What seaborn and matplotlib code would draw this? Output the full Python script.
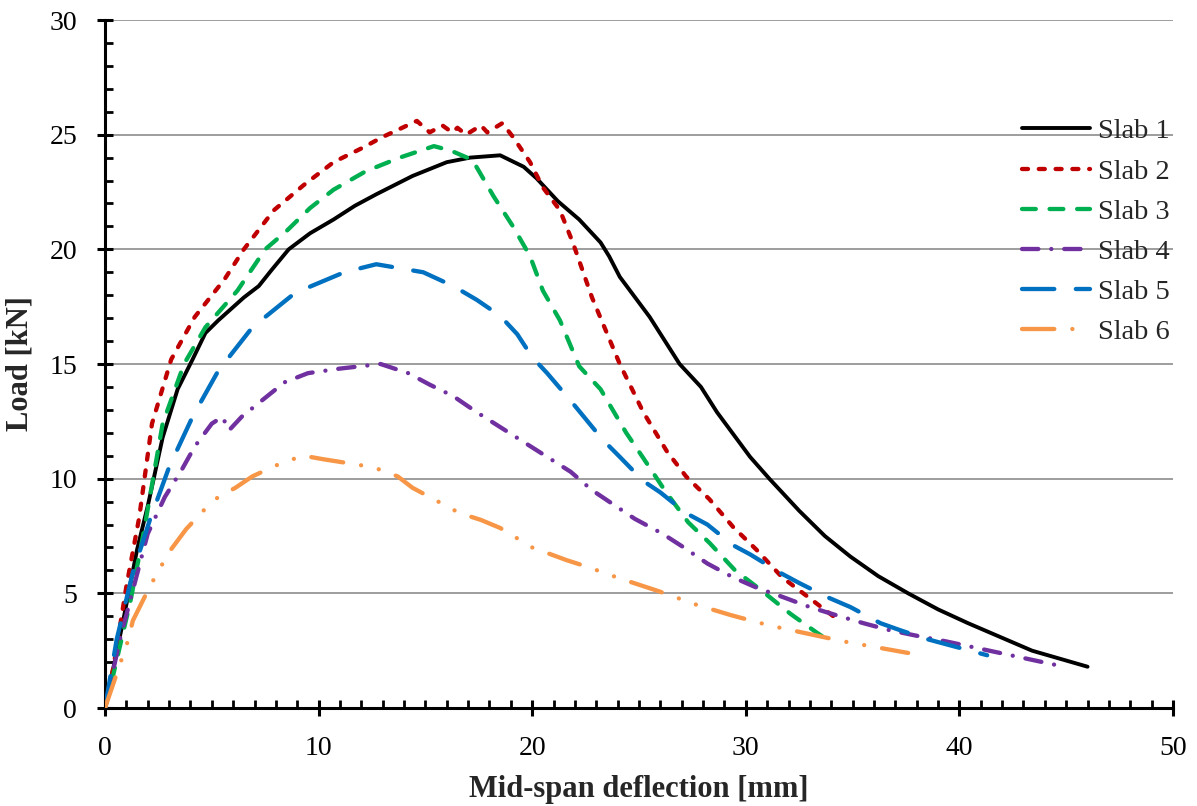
"""Load vs mid-span deflection for six slabs."""
import numpy as np
import pandas as pd
import seaborn as sns
import matplotlib.pyplot as plt
from matplotlib.ticker import MultipleLocator

# Values.
slab1_x = [0, 0.85, 1.5, 2.0, 2.7, 3.4, 4.1, 4.7, 5.3, 5.9, 6.5, 7.2, 7.8,
           8.6, 9.6, 10.7, 11.7, 12.7, 14.4, 16.0, 17.1, 18.5, 19.6, 20.2,
           21.2, 22.2, 23.2, 23.6, 24.1, 25.5, 26.9, 27.9, 28.65, 30.2, 31.1,
           32.5, 33.7, 34.9, 36.2, 37.6, 39.0, 40.4, 41.9, 43.4, 46.0]
slab1_y = [0, 3.8, 6.9, 8.8, 11.8, 13.9, 15.2, 16.35, 16.9, 17.4, 17.9, 18.4,
           19.1, 20.0, 20.7, 21.3, 21.9, 22.4, 23.2, 23.8, 24.0, 24.1, 23.6,
           23.1, 22.1, 21.3, 20.3, 19.7, 18.8, 17.05, 15.0, 14.0, 12.9, 10.95,
           10.0, 8.6, 7.5, 6.6, 5.75, 5.0, 4.3, 3.7, 3.1, 2.5, 1.8]

slab2_x = [0, 0.4, 1.0, 1.6, 2.2, 3.1, 4.2, 5.6, 6.5, 7.9, 9.3, 10.7, 12.0,
           13.0, 14.6, 15.2, 15.8, 16.25, 16.5, 16.9, 17.6, 17.9, 18.6, 19.1,
           19.9, 20.5, 21.3, 21.9, 22.8, 24.1, 25.2, 26.3, 27.2, 28.3, 29.4,
           30.5, 31.7, 32.9, 34.1, 34.4]
slab2_y = [0, 1.8, 5.3, 8.3, 12.4, 15.2, 17.05, 18.7, 20.0, 21.7, 22.8, 23.8,
           24.4, 24.9, 25.6, 25.1, 25.4, 25.1, 25.3, 25.0, 25.4, 25.1, 25.5,
           24.9, 23.8, 22.7, 21.7, 20.3, 17.9, 15.0, 12.9, 11.2, 10.1, 9.1,
           7.9, 6.9, 5.7, 4.85, 4.0, 3.9]

slab3_x = [0, 0.4, 1.2, 1.8, 2.7, 3.7, 4.7, 6.2, 7.5, 8.5, 9.6, 10.7, 12.2,
           13.8, 15.4, 16.2, 17.2, 18.2, 19.1, 19.9, 20.5, 21.3, 22.2, 23.2,
           24.4, 25.2, 26.2, 27.3, 28.3, 29.5, 30.7, 32.1, 33.3, 33.7]
slab3_y = [0, 1.5, 4.7, 7.6, 12.4, 15.0, 16.6, 18.2, 20.0, 20.8, 21.8, 22.6,
           23.4, 24.0, 24.5, 24.3, 23.9, 22.3, 21.0, 19.7, 18.2, 16.9, 14.9,
           13.9, 12.0, 10.9, 9.5, 8.1, 7.2, 6.0, 5.15, 4.1, 3.3, 3.05]

slab4_x = [0, 0.7, 2.0, 2.8, 3.6, 4.2, 5.0, 5.5, 5.8, 6.4, 7.2, 8.4, 9.5,
           11.0, 12.9, 14.2, 15.2, 16.3, 17.4, 18.5, 19.6, 20.7, 21.8, 22.8,
           24.8, 26.1, 27.1, 28.2, 29.4, 30.5, 31.7, 33.0, 34.4, 35.5, 36.7,
           38.0, 39.4, 41.9, 44.4, 44.9]
slab4_y = [0, 3.0, 7.6, 9.2, 10.4, 11.4, 12.4, 12.7, 12.1, 12.7, 13.3, 14.2,
           14.6, 14.8, 15.0, 14.6, 14.1, 13.6, 12.9, 12.25, 11.6, 10.95, 10.3,
           9.5, 8.25, 7.6, 7.0, 6.3, 5.7, 5.25, 4.85, 4.4, 4.0, 3.7, 3.4, 3.15,
           2.9, 2.4, 1.9, 1.8]

slab5_x = [0, 0.55, 1.3, 2.1, 3.0, 4.1, 5.3, 6.9, 8.9, 11.2, 12.7, 14.9,
           16.3, 17.4, 18.5, 19.3, 20.0, 20.7, 21.8, 23.3, 24.1, 25.2, 26.0,
           27.2, 28.2, 29.4, 30.2, 31.6, 32.5, 33.9, 34.9, 36.3, 37.2, 38.5,
           39.7, 41.3]
slab5_y = [0, 3.0, 5.9, 8.2, 10.5, 12.7, 14.7, 16.6, 18.1, 19.0, 19.35, 19.0,
           18.4, 17.8, 17.1, 16.3, 15.3, 14.6, 13.4, 11.7, 10.95, 9.9, 9.4,
           8.5, 8.0, 7.1, 6.7, 5.9, 5.45, 4.8, 4.4, 3.7, 3.4, 3.0, 2.7, 2.3]

slab6_x = [0, 0.55, 1.1, 1.3, 2.1, 3.0, 3.8, 4.6, 5.3, 6.1, 6.9, 8.3, 9.3,
           10.2, 11.9, 12.7, 13.7, 14.4, 15.4, 16.6, 17.6, 18.5, 20.0, 21.6,
           22.6, 24.1, 25.9, 27.7, 29.3, 31.1, 32.1, 33.6, 34.6, 36.4, 37.6]
slab6_y = [0, 1.5, 3.0, 3.8, 5.3, 6.8, 7.8, 8.6, 9.2, 9.6, 10.1, 10.7, 11.0,
           10.85, 10.6, 10.45, 10.1, 9.6, 9.1, 8.5, 8.2, 7.85, 7.0, 6.45, 6.15,
           5.65, 5.1, 4.5, 4.05, 3.6, 3.4, 3.1, 2.9, 2.6, 2.4]

labels = ['Slab 1', 'Slab 2', 'Slab 3', 'Slab 4', 'Slab 5', 'Slab 6']
colors = ['#000000', '#C00000', '#00B050', '#7030A0', '#0070C0', '#F79646']
# Dash patterns in units of line width (round caps lengthen each dash).
dashes = ['-', (0, (1.4, 2.5)), (0, (3.2, 3.2)),
          (0, (3.8, 3.0, 0.01, 3.0)), (0, (7.5, 5.0)),
          (0, (7.5, 4.2, 0.01, 4.2, 0.01, 4.2))]
widths = [2.8, 3.1, 3.1, 3.1, 3.1, 3.1]

series = [(slab1_x, slab1_y), (slab2_x, slab2_y), (slab3_x, slab3_y),
          (slab4_x, slab4_y), (slab5_x, slab5_y), (slab6_x, slab6_y)]

sns.set_style('ticks')
plt.rcParams['font.family'] = ['Liberation Serif', 'DejaVu Serif']

fig = plt.figure(figsize=(11.97, 8.06), dpi=100)
ax = fig.add_axes([105 / 1197, 98 / 806, 1068 / 1197, 688 / 806])

handles = []
for (xs, ys), lab, col, ls, lw in zip(series, labels, colors, dashes, widths):
    df = pd.DataFrame({'x': xs, 'y': ys})
    sns.lineplot(data=df, x='x', y='y', ax=ax, color=col, linestyle=ls,
                 linewidth=lw, estimator=None, sort=False,
                 dash_capstyle='round', solid_capstyle='round',
                 solid_joinstyle='round', zorder=3)
    handles.append(ax.lines[-1])

ax.set_xlim(0, 50)
ax.set_ylim(0, 30)
ax.xaxis.set_major_locator(MultipleLocator(10))
ax.xaxis.set_minor_locator(MultipleLocator(1))
ax.yaxis.set_major_locator(MultipleLocator(5))
ax.yaxis.set_minor_locator(MultipleLocator(1))

ax.yaxis.grid(True, which='major', color='#8c8c8c', linewidth=1.2, zorder=0)
ax.xaxis.grid(False)
ax.set_axisbelow(True)

for side in ['top', 'right']:
    ax.spines[side].set_visible(False)
for side in ['left', 'bottom']:
    ax.spines[side].set_linewidth(2.2)
    ax.spines[side].set_color('black')

ax.tick_params(which='both', bottom=True, left=True, top=False, right=False)
ax.tick_params(which='major', direction='inout', length=12, width=2.2,
               labelsize=20, pad=14, color='black', labelcolor='black')
ax.tick_params(which='minor', direction='in', length=6, width=2.0,
               color='black')

ax.set_xlabel('Mid-span deflection [mm]', fontsize=22, fontweight='bold')
ax.set_ylabel('Load [kN]', fontsize=22, fontweight='bold')
ax.xaxis.set_label_coords(0.5, -0.097)
ax.yaxis.set_label_coords(-0.066, 0.5)

ax.legend(handles, labels, loc='center left', bbox_to_anchor=(0.845, 0.692),
          frameon=False, fontsize=20.5, borderpad=0, handlelength=2.4,
          handletextpad=0.28, labelspacing=0.5)

fig.savefig('out.png', dpi=100)
